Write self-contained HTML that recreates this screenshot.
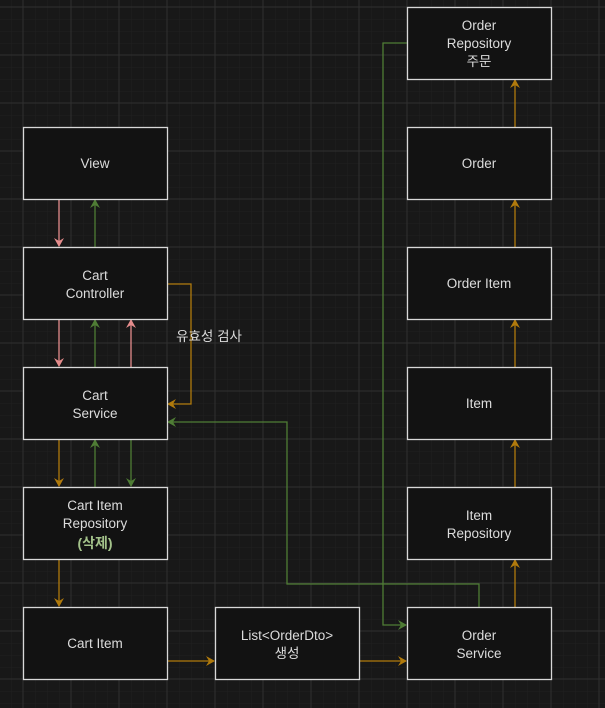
<!DOCTYPE html>
<html><head><meta charset="utf-8"><style>
html,body{margin:0;padding:0;background:#181818;}
svg{display:block;}
text{font-family:"Liberation Sans","Noto Sans CJK KR",sans-serif;font-size:13.5px;fill:#dcdcdc;text-anchor:middle;}
</style></head><body>
<svg width="605" height="708" viewBox="0 0 605 708" xmlns="http://www.w3.org/2000/svg">
<defs>
<pattern id="minor" x="23" y="7" width="12" height="12" patternUnits="userSpaceOnUse">
<path d="M0 0H12M0 0V12" stroke="#202020" stroke-width="1" fill="none"/>
</pattern>
<pattern id="major" x="22.5" y="6.5" width="48" height="48" patternUnits="userSpaceOnUse">
<path d="M0 0.5H48M0.5 0V48" stroke="#303030" stroke-width="1" fill="none"/>
</pattern>
<marker id="ap" markerWidth="10" markerHeight="10" refX="8" refY="5" orient="auto" markerUnits="userSpaceOnUse"><path d="M0 0L9 5L0 10L3 5Z" fill="#e58c8c"/></marker>
<marker id="ag" markerWidth="10" markerHeight="10" refX="8" refY="5" orient="auto" markerUnits="userSpaceOnUse"><path d="M0 0L9 5L0 10L3 5Z" fill="#4f7d35"/></marker>
<marker id="ao" markerWidth="10" markerHeight="10" refX="8" refY="5" orient="auto" markerUnits="userSpaceOnUse"><path d="M0 0L9 5L0 10L3 5Z" fill="#b07a0c"/></marker>
</defs>
<rect width="605" height="708" fill="#181818"/>
<rect width="605" height="708" fill="url(#minor)"/>
<rect width="605" height="708" fill="url(#major)"/>

<g fill="none" stroke-width="1.3">
<!-- left column -->
<path d="M59 199V246" stroke="#e58c8c" marker-end="url(#ap)"/>
<path d="M95 247V200" stroke="#4f7d35" marker-end="url(#ag)"/>
<path d="M59 319V366" stroke="#e58c8c" marker-end="url(#ap)"/>
<path d="M95 367V320" stroke="#4f7d35" marker-end="url(#ag)"/>
<path d="M131 367V320" stroke="#e58c8c" marker-end="url(#ap)"/>
<path d="M59 439V486" stroke="#b07a0c" marker-end="url(#ao)"/>
<path d="M95 487V440" stroke="#4f7d35" marker-end="url(#ag)"/>
<path d="M131 439V486" stroke="#4f7d35" marker-end="url(#ag)"/>
<path d="M59 559V606" stroke="#b07a0c" marker-end="url(#ao)"/>
<path d="M167 284H191V404H168" stroke="#b07a0c" marker-end="url(#ao)"/>
<path d="M479 607V584H287V422H168" stroke="#4f7d35" marker-end="url(#ag)"/>
<path d="M407 43H383V625H406" stroke="#4f7d35" marker-end="url(#ag)"/>
<path d="M167 661H214" stroke="#b07a0c" marker-end="url(#ao)"/>
<path d="M359 661H406" stroke="#b07a0c" marker-end="url(#ao)"/>
<!-- right column -->
<path d="M515 607V560" stroke="#b07a0c" marker-end="url(#ao)"/>
<path d="M515 487V440" stroke="#b07a0c" marker-end="url(#ao)"/>
<path d="M515 367V320" stroke="#b07a0c" marker-end="url(#ao)"/>
<path d="M515 247V200" stroke="#b07a0c" marker-end="url(#ao)"/>
<path d="M515 127V80" stroke="#b07a0c" marker-end="url(#ao)"/>
</g>

<g fill="#121212" stroke="#d8d8d8" stroke-width="1.3">
<rect x="23.5" y="127.5" width="144" height="72"/>
<rect x="23.5" y="247.5" width="144" height="72"/>
<rect x="23.5" y="367.5" width="144" height="72"/>
<rect x="23.5" y="487.5" width="144" height="72"/>
<rect x="23.5" y="607.5" width="144" height="72"/>
<rect x="215.5" y="607.5" width="144" height="72"/>
<rect x="407.5" y="607.5" width="144" height="72"/>
<rect x="407.5" y="487.5" width="144" height="72"/>
<rect x="407.5" y="367.5" width="144" height="72"/>
<rect x="407.5" y="247.5" width="144" height="72"/>
<rect x="407.5" y="127.5" width="144" height="72"/>
<rect x="407.5" y="7.5" width="144" height="72"/>
</g>

<text x="95" y="168">View</text>
<text x="95" y="280">Cart</text>
<text x="95" y="298">Controller</text>
<text x="95" y="400">Cart</text>
<text x="95" y="418">Service</text>
<text x="95" y="510">Cart Item</text>
<text x="95" y="528">Repository</text>
<text x="95" y="548" style="fill:#a3c28a;font-weight:bold;font-size:14px">(삭제)</text>
<text x="95" y="648">Cart Item</text>
<text x="287" y="640">List&lt;OrderDto&gt;</text>
<text x="287" y="658">생성</text>
<text x="479" y="640">Order</text>
<text x="479" y="658">Service</text>
<text x="479" y="520">Item</text>
<text x="479" y="538">Repository</text>
<text x="479" y="408">Item</text>
<text x="479" y="288">Order Item</text>
<text x="479" y="168">Order</text>
<text x="479" y="30">Order</text>
<text x="479" y="48">Repository</text>
<text x="479" y="66">주문</text>
<text x="209" y="341">유효성 검사</text>
</svg>
</body></html>
